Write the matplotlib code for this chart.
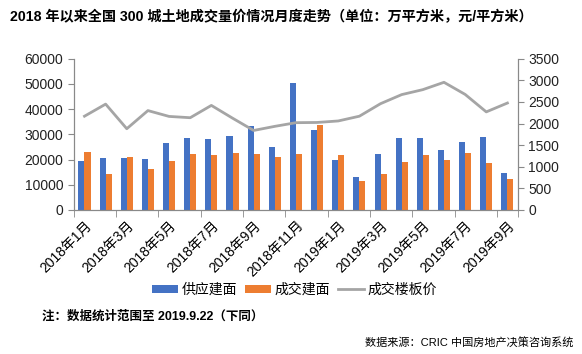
import matplotlib.pyplot as plt
import numpy as np

plt.rcParams['font.family'] = ['Liberation Sans', 'Noto Sans CJK SC']

months = [f"2018年{m}月" for m in range(1, 13)] + [f"2019年{m}月" for m in range(1, 10)]
supply = [19500, 20700, 20700, 20300, 26600, 28600, 28200, 29400, 33400, 25000, 50400,
          31700, 19800, 13100, 22200, 28500, 28500, 23700, 26900, 28900, 14600]
deal = [23100, 14300, 21100, 16300, 19500, 22300, 21900, 22700, 22300, 21100, 22200,
        33600, 21800, 11500, 14300, 19000, 21800, 19800, 22600, 18600, 12300]
price = [2170, 2450, 1880, 2300, 2165, 2135, 2420, 2125, 1840, 1935, 2020,
         2025, 2060, 2170, 2460, 2670, 2785, 2955, 2675, 2270, 2475]

BLUE = "#4472C4"
ORANGE = "#ED7D31"
GRAY = "#A5A5A5"
AXIS = "#898989"

fig = plt.figure(figsize=(5.82, 3.54), dpi=100)
ax = fig.add_axes([0.127, 0.407, 0.763, 0.427])
ax2 = ax.twinx()

x = np.arange(len(months))
w = 0.285
ax.bar(x - w / 2, supply, width=w, color=BLUE, label="供应建面", zorder=2)
ax.bar(x + w / 2, deal, width=w, color=ORANGE, label="成交建面", zorder=2)
ax2.plot(x, price, color=GRAY, linewidth=2, label="成交楼板价")

ax.set_xlim(-0.5, len(months) - 0.5)
ax.set_ylim(0, 60000)
ax.set_yticks(range(0, 60001, 10000))
ax2.set_ylim(0, 3500)
ax2.set_yticks(range(0, 3501, 500))

ax.set_xticks(x[::2])
ax.set_xticklabels(months[::2], rotation=45, ha="right", rotation_mode="anchor", fontsize=10)
ax.tick_params(axis="x", length=0, pad=6)
# excel style tick marks on the category boundaries
ax.set_xticks(np.append(np.arange(-0.5, len(months), 2), len(months) - 0.5), minor=True)
ax.tick_params(axis="x", which="minor", length=5, color=AXIS)

for a in (ax, ax2):
    for s in a.spines.values():
        s.set_color(AXIS)
    a.spines["top"].set_visible(False)
    a.tick_params(axis="y", labelsize=10, length=4, color=AXIS, labelcolor="#222222")

fig.text(0.018, 0.952, "2018 年以来全国 300 城土地成交量价情况月度走势（单位：万平方米，元/平方米）",
         fontsize=10.2, fontweight="bold", va="center")

h1, l1 = ax.get_legend_handles_labels()
h2, l2 = ax2.get_legend_handles_labels()
fig.legend(h1 + h2, l1 + l2, loc="center", bbox_to_anchor=(0.506, 0.181), ncol=3,
           frameon=False, fontsize=10, handlelength=1.9, handleheight=0.6,
           columnspacing=0.55, handletextpad=0.25)

fig.text(0.072, 0.105, "注：数据统计范围至 2019.9.22（下同）", fontsize=9, fontweight="bold", va="center")
fig.text(0.986, 0.034, "数据来源：CRIC 中国房地产决策咨询系统", fontsize=8, ha="right", va="center")

fig.savefig("out.png")
